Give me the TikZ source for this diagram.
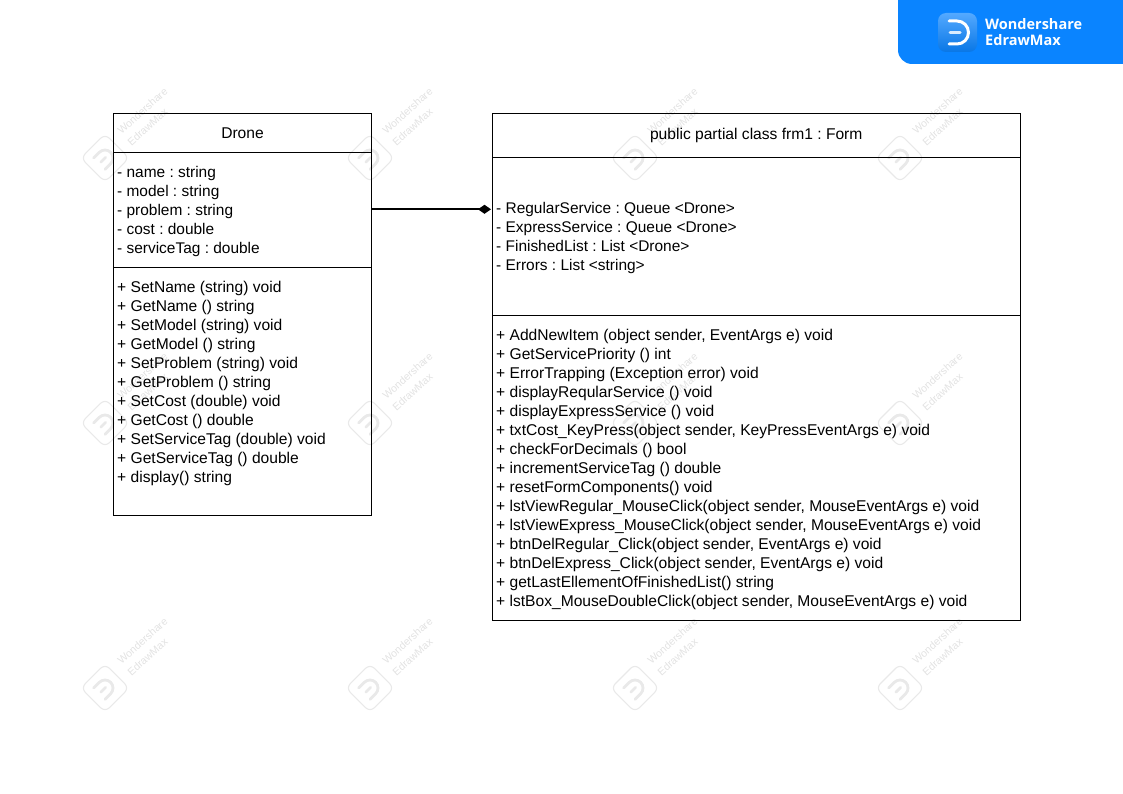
\documentclass[tikz,border=0pt]{standalone}
\usepackage{fontspec}
\setmainfont{Liberation Sans}
\newfontfamily\logofont{Open Sans}
\usetikzlibrary{arrows.meta}
\definecolor{wm}{HTML}{E9E9E9}
\definecolor{wmtext}{HTML}{E2E2E2}
\definecolor{banner}{HTML}{0A84FF}
\frenchspacing
\tikzset{
  x=1pt,y=1pt,
  umlbox/.style={draw=black,line width=0.9pt,anchor=north west,inner sep=0pt,outer sep=0pt,font=\fontsize{15.6}{19}\selectfont},
  umltext/.style={anchor=north west,align=left,inner sep=0pt,font=\frenchspacing\fontsize{15.6}{19}\selectfont},
  attrtext/.style={umltext,font=\frenchspacing\fontsize{15.45}{19}\selectfont},
  wmlabel/.style={text=wmtext,font=\fontsize{10.5}{12}\selectfont,rotate=42,inner sep=0pt},
  wmark/.pic={
    \begin{scope}[xshift=-2pt,rotate=45]
      \draw[wm,line width=1.1pt,rounded corners=6pt] (-17,-17) rectangle (17,17);
      \draw[wm,line width=2.8pt,line cap=round] (-8,8) -- (0,8) arc[start angle=90,end angle=-90,radius=8] -- (-8,-8);
      \draw[wm,line width=2.8pt,line cap=round] (-6,0) -- (1,0);
    \end{scope}
    \node[wmlabel,anchor=center] (-wa) at (35.5,47) {Wondershare};
    \node[wmlabel,anchor=center] (-wb) at (40.5,31) {EdrawMax};
  }
}
\begin{document}
\begin{tikzpicture}
\useasboundingbox (0,0) rectangle (1123,-794);
% watermarks
\foreach \i/\wx in {0/107,1/372,2/637,3/902}{
  \foreach \j/\wy in {0/-158,1/-423,2/-688}{
    \pic (w\i\j) at (\wx,\wy) {wmark};
  }
}
% banner
\fill[banner] (898,0) -- (1123,0) -- (1123,-64) -- (912,-64) arc[start angle=270,end angle=180,radius=14] -- cycle;
\shade[top color=banner!70!white,bottom color=banner!90!black,rounded corners=8pt] (938,-13) rectangle (977,-52);
\draw[white,line width=3pt,line cap=round] (949,-21) -- (957,-21) arc[start angle=90,end angle=-90,radius=11.5] -- (949,-44);
\draw[white!85!banner,line width=3pt,line cap=round] (950,-33) -- (960,-33);
\node[anchor=west,inner sep=0pt,text=white,align=left,font=\logofont\fontsize{14.5}{16}\selectfont\bfseries] (logo) at (985,-32.5) {Wondershare\\EdrawMax};
% Drone class
\node[umlbox,minimum width=258pt,minimum height=39pt] (dt) at (113.5,-113.5) {Drone};
\node[umlbox,minimum width=258pt,minimum height=115pt] (da) at (113.5,-152.5) {};
\node[umlbox,minimum width=258pt,minimum height=248pt] (dm) at (113.5,-267.5) {};
\node[attrtext] (dat) at (117,-166.3) {- name : string\\- model : string\\- problem : string\\- cost : double\\- serviceTag : double};
\node[umltext] (dmt) at (117,-280.5) {+ SetName (string) void\\+ GetName () string\\+ SetModel (string) void\\+ GetModel () string\\+ SetProblem (string) void\\+ GetProblem () string\\+ SetCost (double) void\\+ GetCost () double\\+ SetServiceTag (double) void\\+ GetServiceTag () double\\+ display() string};
% Form class
\node[umlbox,minimum width=528.5pt,minimum height=44pt] (ft) at (492,-113.5) {public partial class frm1 : Form};
\node[umlbox,minimum width=528.5pt,minimum height=158pt] (fa) at (492,-157.5) {};
\node[umlbox,minimum width=528.5pt,minimum height=305pt] (fm) at (492,-315.5) {};
\node[attrtext] (fat) at (496,-202) {- RegularService : Queue <Drone>\\- ExpressService : Queue <Drone>\\- FinishedList : List <Drone>\\- Errors : List <string>};
\node[umltext] (fmt) at (496,-328.5) {+ AddNewItem (object sender, EventArgs e) void\\+ GetServicePriority () int\\+ ErrorTrapping (Exception error) void\\+ displayReqularService () void\\+ displayExpressService () void\\+ txtCost\_KeyPress(object sender, KeyPressEventArgs e) void\\+ checkForDecimals () bool\\+ incrementServiceTag () double\\+ resetFormComponents() void\\+ lstViewRegular\_MouseClick(object sender, MouseEventArgs e) void\\+ lstViewExpress\_MouseClick(object sender, MouseEventArgs e) void\\+ btnDelRegular\_Click(object sender, EventArgs e) void\\+ btnDelExpress\_Click(object sender, EventArgs e) void\\+ getLastEllementOfFinishedList() string\\+ lstBox\_MouseDoubleClick(object sender, MouseEventArgs e) void};
% connector
\coordinate (cs) at ([yshift=0.7pt]da.east);
\draw[black,line width=2pt,{Diamond[length=13pt,width=9pt,fill=black]}-] (cs -| fa.west) ++(-1,0) -- (cs);
\end{tikzpicture}
\end{document}
